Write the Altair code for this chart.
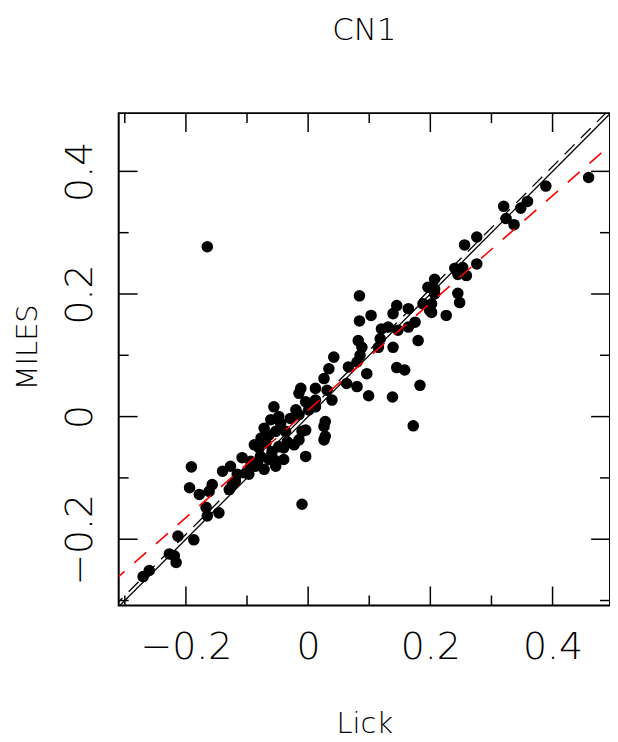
import altair as alt
import pandas as pd

# ---- data ----
title_text = ["CN1"]
lick = [
    -0.270, -0.260, -0.227, -0.216, -0.219, -0.213, -0.187, -0.165, -0.167, -0.146,
    -0.178, -0.194, -0.191, -0.157, -0.162, -0.140, -0.127, -0.129, -0.119, -0.116,
    -0.108, -0.097, -0.094, 0.026, 0.031, 0.012, -0.012, -0.015, -0.004, 0.007,
    -0.056, -0.048, -0.020, -0.015, -0.045, -0.072, -0.064, -0.004, -0.023, -0.004,
    -0.034, -0.040, 0.026, 0.026, -0.088, -0.080, -0.094, -0.086, -0.064, -0.040,
    -0.102, -0.053, -0.072, -0.059, -0.069, -0.077, -0.053, -0.037,
    -0.124, -0.061, -0.048, -0.056, -0.015, -0.029, 0.001, 0.012, -0.083, -0.078,
    0.084, 0.103, 0.084, 0.145, 0.139, 0.164, 0.164, 0.188, 0.199, 0.196,
    0.207, 0.120, 0.131, 0.118, 0.147, 0.082, 0.088, 0.115, 0.139, 0.180,
    0.085, 0.042, 0.066, 0.080, 0.034, 0.096, 0.080, 0.063, 0.145, 0.158,
    0.183, 0.099, 0.138, 0.012, 0.039, 0.028, -0.010, 0.028, 0.172,
    0.459, 0.389, 0.359, 0.348, 0.320, 0.324, 0.337, 0.256, 0.276, 0.276,
    0.240, 0.253, 0.259, 0.245, 0.207, 0.207, 0.245, 0.248, 0.202, 0.202,
    0.226, 0.175, -0.165, -0.010,
]
miles = [
    -0.261, -0.251, -0.224, -0.238, -0.227, -0.195, -0.201, -0.162, -0.148, -0.157,
    -0.127, -0.116, -0.082, -0.111, -0.122, -0.089, -0.081, -0.119, -0.105, -0.094,
    -0.067, -0.094, -0.081, 0.062, 0.043, 0.046, 0.046, 0.038, 0.024, 0.022,
    0.016, 0.000, 0.011, 0.003, -0.011, -0.019, -0.030, -0.022, -0.046, -0.065,
    -0.041, -0.051, -0.016, -0.038, -0.046, -0.051, -0.073, -0.081, -0.070, -0.070,
    -0.092, -0.081, -0.086, -0.057, -0.043, -0.035, -0.024, -0.024,
    -0.111, -0.005, -0.049, -0.070, -0.038, -0.003, 0.011, 0.016, -0.075, -0.065,
    0.197, 0.165, 0.156, 0.181, 0.168, 0.176, 0.146, 0.184, 0.173, 0.211,
    0.200, 0.143, 0.146, 0.127, 0.141, 0.124, 0.113, 0.113, 0.113, 0.124,
    0.100, 0.097, 0.081, 0.089, 0.078, 0.070, 0.049, 0.054, 0.080, 0.076,
    0.051, 0.034, 0.032, 0.027, 0.027, -0.008, -0.024, -0.032, -0.015,
    0.390, 0.376, 0.351, 0.340, 0.343, 0.323, 0.313, 0.280, 0.293, 0.249,
    0.242, 0.243, 0.230, 0.232, 0.224, 0.208, 0.201, 0.186, 0.184, 0.170,
    0.165, 0.154, 0.277, -0.143,
]

x_domain = [-0.31, 0.494]
y_domain = [-0.308, 0.495]
major_ticks = [-0.2, 0.0, 0.2, 0.4]
minor_ticks = [-0.3, -0.1, 0.1, 0.3]

# reference lines: (slope, intercept)
one_to_one = (1.0, 0.0)
black_fit = (1.0, 0.008)
red_fit = (0.875, 0.0103)
line_x = [-0.32, 0.51]

W, H = 494, 495
MAJ, MIN = 19, 10
FONT = "DejaVu Sans"
WEIGHT = 200

pts = pd.DataFrame({"lick": lick, "miles": miles})
maj = pd.DataFrame({"v": major_ticks})
mnr = pd.DataFrame({"v": minor_ticks})


def line_df(p):
    s, b = p
    return pd.DataFrame({"lick": line_x, "miles": [s * v + b for v in line_x]})


xs = alt.Scale(domain=x_domain, nice=False, zero=False)
ys = alt.Scale(domain=y_domain, nice=False, zero=False)

label_expr = "datum.value == 0 ? '0' : replace(format(datum.value, '.1f'), '-', '\u2212')"

x_axis = alt.Axis(
    values=major_ticks, grid=False, ticks=False, domain=False, tickSize=0,
    labelExpr=label_expr, labelFont=FONT, labelFontSize=38, labelColor="black",
    labelFontWeight=WEIGHT,
    labelBaseline="alphabetic", labelPadding=53, labelOverlap=False, labelFlush=False,
    title="Lick", titleFont=FONT, titleFontSize=29, titleFontWeight=WEIGHT,
    titleColor="black", titleBaseline="alphabetic", titleY=128, titleX=W / 2,
    titleAlign="center",
)
y_axis = alt.Axis(
    values=major_ticks, grid=False, ticks=False, domain=False, tickSize=0,
    labelExpr=label_expr, labelFont=FONT, labelFontSize=38, labelColor="black",
    labelFontWeight=WEIGHT,
    labelAngle=-90, labelAlign="center", labelBaseline="alphabetic",
    labelPadding=27, labelOverlap=False, labelFlush=False,
    title="MILES", titleFont=FONT, titleFontSize=29, titleFontWeight=WEIGHT,
    titleColor="black", titleAngle=-90, titleAlign="center",
    titleBaseline="alphabetic", titleX=-83, titleY=235,
)

X = alt.X("lick:Q", scale=xs, axis=x_axis)
Y = alt.Y("miles:Q", scale=ys, axis=y_axis)

points = alt.Chart(pts).mark_circle(size=135, color="black", opacity=1).encode(x=X, y=Y)


def ref_line(p, color, dash=None, width=1.3):
    kw = dict(color=color, strokeWidth=width, clip=True)
    if dash:
        kw["strokeDash"] = dash
    return alt.Chart(line_df(p)).mark_line(**kw).encode(x=X, y=Y)


lines = [
    ref_line(one_to_one, "black"),
    ref_line(black_fit, "black", [14, 9]),
    ref_line(red_fit, "#ff0000", [16, 13], 1.6),
]


def xticks(df, length):
    enc_x = alt.X("v:Q", scale=xs, axis=x_axis)
    bottom = alt.Chart(df).mark_rule(color="black", strokeWidth=1.5).encode(
        x=enc_x, y=alt.value(H), y2=alt.value(H - length))
    top = alt.Chart(df).mark_rule(color="black", strokeWidth=1.5).encode(
        x=enc_x, y=alt.value(0), y2=alt.value(length))
    return [bottom, top]


def yticks(df, length):
    enc_y = alt.Y("v:Q", scale=ys, axis=y_axis)
    left = alt.Chart(df).mark_rule(color="black", strokeWidth=1.5).encode(
        y=enc_y, x=alt.value(0), x2=alt.value(length))
    right = alt.Chart(df).mark_rule(color="black", strokeWidth=1.5).encode(
        y=enc_y, x=alt.value(W), x2=alt.value(W - length))
    return [left, right]


tick_layers = xticks(maj, MAJ) + xticks(mnr, MIN) + yticks(maj, MAJ) + yticks(mnr, MIN)

title = alt.Chart(pd.DataFrame({"t": title_text})).mark_text(
    font=FONT, fontSize=31, fontWeight=WEIGHT, color="black",
    align="center", baseline="top",
).encode(text="t:N", x=alt.value(W / 2), y=alt.value(-98))

chart = alt.layer(points, *lines, *tick_layers, title).properties(
    width=W,
    height=H,
    background="white",
    autosize=alt.AutoSizeParams(type="none"),
    padding={"left": 111.3, "top": 103.7, "right": 0, "bottom": 134},
).configure_view(
    stroke="black", strokeWidth=2
)

chart.save("out.html", embed_options={"renderer": "svg", "actions": False})
